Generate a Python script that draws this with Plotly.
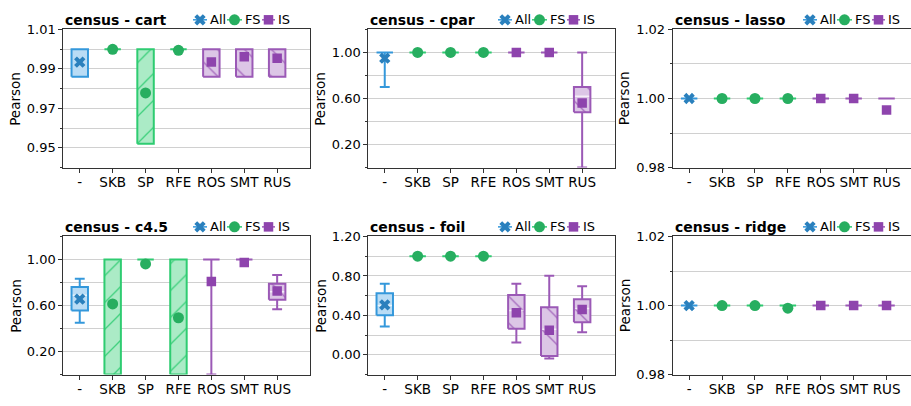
import plotly.graph_objects as go

# ---------------- data ----------------
CATS = ['-', 'SKB', 'SP', 'RFE', 'ROS', 'SMT', 'RUS']
GROUPS = ['All', 'FS', 'FS', 'FS', 'IS', 'IS', 'IS']

# census - cart
cart_lo = [0.986, 1.0, 0.952, 1.0, 0.986, 0.986, 0.986]
cart_q1 = [0.986, 1.0, 0.952, 1.0, 0.986, 0.986, 0.986]
cart_med = [1.0, 1.0, 1.0, 1.0, 1.0, 1.0, 1.0]
cart_q3 = [1.0, 1.0, 1.0, 1.0, 1.0, 1.0, 1.0]
cart_hi = [1.0, 1.0, 1.0, 1.0, 1.0, 1.0, 1.0]
cart_mean = [0.9934, 0.9999, 0.9778, 0.9994, 0.9935, 0.9961, 0.9954]

# census - cpar
cpar_lo = [0.70, 1.0, 1.0, 1.0, 1.0, 1.0, 0.0]
cpar_q1 = [1.0, 1.0, 1.0, 1.0, 1.0, 1.0, 0.48]
cpar_med = [1.0, 1.0, 1.0, 1.0, 1.0, 1.0, 0.62]
cpar_q3 = [1.0, 1.0, 1.0, 1.0, 1.0, 1.0, 0.70]
cpar_hi = [1.0, 1.0, 1.0, 1.0, 1.0, 1.0, 1.0]
cpar_mean = [0.95, 1.0, 1.0, 1.0, 1.0, 1.0, 0.56]

# census - lasso
lasso_lo = [1.0, 1.0, 1.0, 1.0, 1.0, 1.0, 1.0]
lasso_q1 = [1.0, 1.0, 1.0, 1.0, 1.0, 1.0, 1.0]
lasso_med = [1.0, 1.0, 1.0, 1.0, 1.0, 1.0, 1.0]
lasso_q3 = [1.0, 1.0, 1.0, 1.0, 1.0, 1.0, 1.0]
lasso_hi = [1.0, 1.0, 1.0, 1.0, 1.0, 1.0, 1.0]
lasso_mean = [1.0, 1.0, 1.0, 1.0, 1.0, 1.0, 0.9967]

# census - c4.5
c45_lo = [0.45, 0.0, 1.0, 0.0, 0.0, 1.0, 0.567]
c45_q1 = [0.558, 0.0, 1.0, 0.0, 1.0, 1.0, 0.65]
c45_med = [0.69, 1.0, 1.0, 1.0, 1.0, 1.0, 0.72]
c45_q3 = [0.761, 1.0, 1.0, 1.0, 1.0, 1.0, 0.79]
c45_hi = [0.832, 1.0, 1.0, 1.0, 1.0, 1.0, 0.865]
c45_mean = [0.656, 0.614, 0.962, 0.494, 0.809, 0.975, 0.726]

# census - foil
foil_lo = [0.288, 1.0, 1.0, 1.0, 0.126, -0.037, 0.229]
foil_q1 = [0.402, 1.0, 1.0, 1.0, 0.265, -0.011, 0.331]
foil_med = [0.50, 1.0, 1.0, 1.0, 0.45, 0.26, 0.47]
foil_q3 = [0.624, 1.0, 1.0, 1.0, 0.607, 0.483, 0.565]
foil_hi = [0.721, 1.0, 1.0, 1.0, 0.721, 0.803, 0.695]
foil_mean = [0.507, 1.0, 1.0, 1.0, 0.428, 0.249, 0.461]

# census - ridge
ridge_lo = [1.0, 1.0, 1.0, 1.0, 1.0, 1.0, 1.0]
ridge_q1 = [1.0, 1.0, 1.0, 1.0, 1.0, 1.0, 1.0]
ridge_med = [1.0, 1.0, 1.0, 1.0, 1.0, 1.0, 1.0]
ridge_q3 = [1.0, 1.0, 1.0, 1.0, 1.0, 1.0, 1.0]
ridge_hi = [1.0, 1.0, 1.0, 1.0, 1.0, 1.0, 1.0]
ridge_mean = [1.0, 1.0, 1.0, 0.99925, 1.0, 1.0, 1.0]

TITLES = ['census - cart', 'census - cpar', 'census - lasso',
          'census - c4.5', 'census - foil', 'census - ridge']

# y axis: range, major tick0, major step, minor tick0, minor step
Y_RANGES = [[0.94, 1.01], [0.0, 1.2], [0.98, 1.02], [0.0, 1.2], [-0.2, 1.2], [0.98, 1.02]]
Y_TICK0 = [0.95, 0.2, 0.98, 0.2, 0.0, 0.98]
Y_DTICK = [0.02, 0.4, 0.02, 0.4, 0.4, 0.02]
Y_MTICK0 = [0.94, 0.0, 0.98, 0.0, -0.2, 0.98]
Y_MDTICK = [0.01, 0.2, 0.01, 0.2, 0.2, 0.01]

PANELS = [
    (cart_lo, cart_q1, cart_med, cart_q3, cart_hi, cart_mean),
    (cpar_lo, cpar_q1, cpar_med, cpar_q3, cpar_hi, cpar_mean),
    (lasso_lo, lasso_q1, lasso_med, lasso_q3, lasso_hi, lasso_mean),
    (c45_lo, c45_q1, c45_med, c45_q3, c45_hi, c45_mean),
    (foil_lo, foil_q1, foil_med, foil_q3, foil_hi, foil_mean),
    (ridge_lo, ridge_q1, ridge_med, ridge_q3, ridge_hi, ridge_mean),
]

# ---------------- style ----------------
EDGE = {'All': '#3498db', 'FS': '#2ecc71', 'IS': '#9b59b6'}
FILL = {'All': '#b9dcf5', 'FS': '#abebc6', 'IS': '#dcc6e6'}
MARK = {'All': '#2a80bd', 'FS': '#27ae60', 'IS': '#8e44ad'}
SYMB = {'All': 'x', 'FS': 'circle', 'IS': 'square'}
MSIZE = {'All': 10, 'FS': 11, 'IS': 9.5}
HATCH = {'All': '', 'FS': '/', 'IS': '\\'}
FONT = 'DejaVu Sans'
SPINE = '#333333'
GRID = '#d0d0d0'

W, H = 911, 406
COL_L = [63.3, 368.3, 672.7]
COL_R = [310.0, 615.0, 920.0]
ROW_T = [23.3, 238.3]
ROW_B = [166.7, 381.7]
UNIT = 32.9
BOXW = 0.5
CAPW = 0.3

fig = go.Figure()
layout = dict(width=W, height=H, autosize=False,
              margin=dict(l=0, r=0, t=0, b=0, pad=0),
              paper_bgcolor='white', plot_bgcolor='rgba(0,0,0,0)',
              barmode='overlay', showlegend=False,
              font=dict(family=FONT, size=13, color='black'))
annotations = []

for p, (lo, q1, med, q3, hi, mean) in enumerate(PANELS):
    r, c = divmod(p, 3)
    ax = '' if p == 0 else str(p + 1)
    xref, yref = 'x' + ax, 'y' + ax
    left, right = COL_L[c], min(COL_R[c], W)
    xmax = -0.5 + (right - left) / UNIT
    layout['xaxis' + ax] = dict(
        domain=[left / W, right / W], anchor=yref,
        range=[-0.5, xmax], tickmode='array', tickvals=list(range(8)),
        ticktext=CATS + [''], ticks='outside', ticklen=4, tickcolor=SPINE,
        showgrid=False, zeroline=False, showline=True, linecolor=SPINE,
        linewidth=1, mirror=True, tickfont=dict(size=13.5), fixedrange=True,
        ticklabelstandoff=-2)
    layout['yaxis' + ax] = dict(
        domain=[1 - ROW_B[r] / H, 1 - ROW_T[r] / H], anchor=xref,
        range=[Y_RANGES[p][0], Y_RANGES[p][1] + 1e-9], tick0=Y_TICK0[p], dtick=Y_DTICK[p],
        tickformat='.2f', ticks='outside', ticklen=4, tickcolor=SPINE,
        showgrid=True, gridcolor=GRID, gridwidth=1, zeroline=False,
        showline=True, linecolor=SPINE, linewidth=1, mirror=(c < 2),
        tickfont=dict(size=13), fixedrange=True,
        minor=dict(tick0=Y_MTICK0[p], dtick=Y_MDTICK[p], ticks='outside', ticklen=2,
                   tickcolor=SPINE, showgrid=True, gridcolor=GRID, gridwidth=1))

    for g in ['All', 'FS', 'IS']:
        idx = [i for i in range(len(CATS)) if GROUPS[i] == g]
        # box fill
        bidx = [i for i in idx if q3[i] > q1[i]]
        if bidx:
            fig.add_trace(go.Bar(
                x=bidx, base=[q1[i] for i in bidx], y=[q3[i] - q1[i] for i in bidx],
                width=BOXW, xaxis=xref, yaxis=yref, hoverinfo='skip',
                marker=dict(color=FILL[g], line=dict(width=0),
                            pattern=dict(shape=HATCH[g], fillmode='overlay', fgcolor=EDGE[g],
                                         fgopacity=0.85, size=19, solidity=0.07))))
            # median
            mx, my = [], []
            for i in bidx:
                mx += [i - BOXW / 2, i + BOXW / 2, None]
                my += [med[i], med[i], None]
            fig.add_trace(go.Scatter(x=mx, y=my, mode='lines', xaxis=xref, yaxis=yref,
                                     line=dict(color='rgba(255,255,255,0.7)', width=1.5),
                                     hoverinfo='skip'))
        # box outline
        ox, oy = [], []
        for i in idx:
            a, b = i - BOXW / 2, i + BOXW / 2
            ox += [a, b, b, a, a, None]
            oy += [q1[i], q1[i], q3[i], q3[i], q1[i], None]
        fig.add_trace(go.Scatter(x=ox, y=oy, mode='lines', xaxis=xref, yaxis=yref,
                                 line=dict(color=EDGE[g], width=2), hoverinfo='skip'))
        # whiskers and caps
        wx, wy = [], []
        for i in idx:
            a, b = i - CAPW / 2, i + CAPW / 2
            if hi[i] > q3[i]:
                wx += [i, i, None, a, b, None]
                wy += [q3[i], hi[i], None, hi[i], hi[i], None]
            if lo[i] < q1[i]:
                wx += [i, i, None, a, b, None]
                wy += [q1[i], lo[i], None, lo[i], lo[i], None]
        if wx:
            fig.add_trace(go.Scatter(x=wx, y=wy, mode='lines', xaxis=xref, yaxis=yref,
                                     line=dict(color=EDGE[g], width=2), hoverinfo='skip'))
        # means
        fig.add_trace(go.Scatter(
            x=idx, y=[mean[i] for i in idx], mode='markers', xaxis=xref, yaxis=yref,
            marker=dict(symbol=SYMB[g], size=MSIZE[g], color=MARK[g], line=dict(width=0)),
            hoverinfo='skip'))

    # title
    ty = ROW_T[r] - 10
    annotations.append(dict(text='<b>' + TITLES[p] + '</b>', x=left / W, y=1 - ty / H,
                            xref='paper', yref='paper', xanchor='left', yanchor='middle',
                            showarrow=False, font=dict(size=14, family=FONT, color='black')))
    # y axis title
    annotations.append(dict(text='Pearson', x=(left - 48) / W,
                            y=1 - (ROW_T[r] + ROW_B[r]) / 2 / H, xref='paper', yref='paper',
                            xanchor='center', yanchor='middle', textangle=-90,
                            showarrow=False, font=dict(size=13.5, family=FONT, color='black')))
    # legend glyphs on overlay axes (pixel space)
    R = COL_R[c] - 20
    offs = {'All': 97, 'FS': 63, 'IS': 28}
    lens = {'All': 14, 'FS': 15, 'IS': 13}
    for g in ['All', 'FS', 'IS']:
        x0 = R - offs[g]
        x1 = x0 + lens[g]
        fig.add_trace(go.Scatter(x=[x0, x1], y=[ty, ty], mode='lines', xaxis='x7', yaxis='y7',
                                 line=dict(color=EDGE[g], width=1.5), hoverinfo='skip'))
        fig.add_trace(go.Scatter(x=[(x0 + x1) / 2], y=[ty], mode='markers', xaxis='x7',
                                 yaxis='y7', hoverinfo='skip',
                                 marker=dict(symbol=SYMB[g], size=MSIZE[g], color=MARK[g],
                                             line=dict(width=0))))
        annotations.append(dict(text=g, x=(x1 + 1) / W, y=1 - ty / H, xref='paper',
                                yref='paper', xanchor='left', yanchor='middle',
                                showarrow=False,
                                font=dict(size=13, family=FONT, color='black')))

layout['xaxis7'] = dict(domain=[0, 1], range=[0, W], visible=False, anchor='y7', fixedrange=True)
layout['yaxis7'] = dict(domain=[0, 1], range=[H, 0], visible=False, anchor='x7', fixedrange=True)
layout['annotations'] = annotations
fig.update_layout(**layout)
fig.write_html('out.html', config={'displayModeBar': False},
               post_script="document.body.style.margin='0';document.body.style.overflow='hidden';")
